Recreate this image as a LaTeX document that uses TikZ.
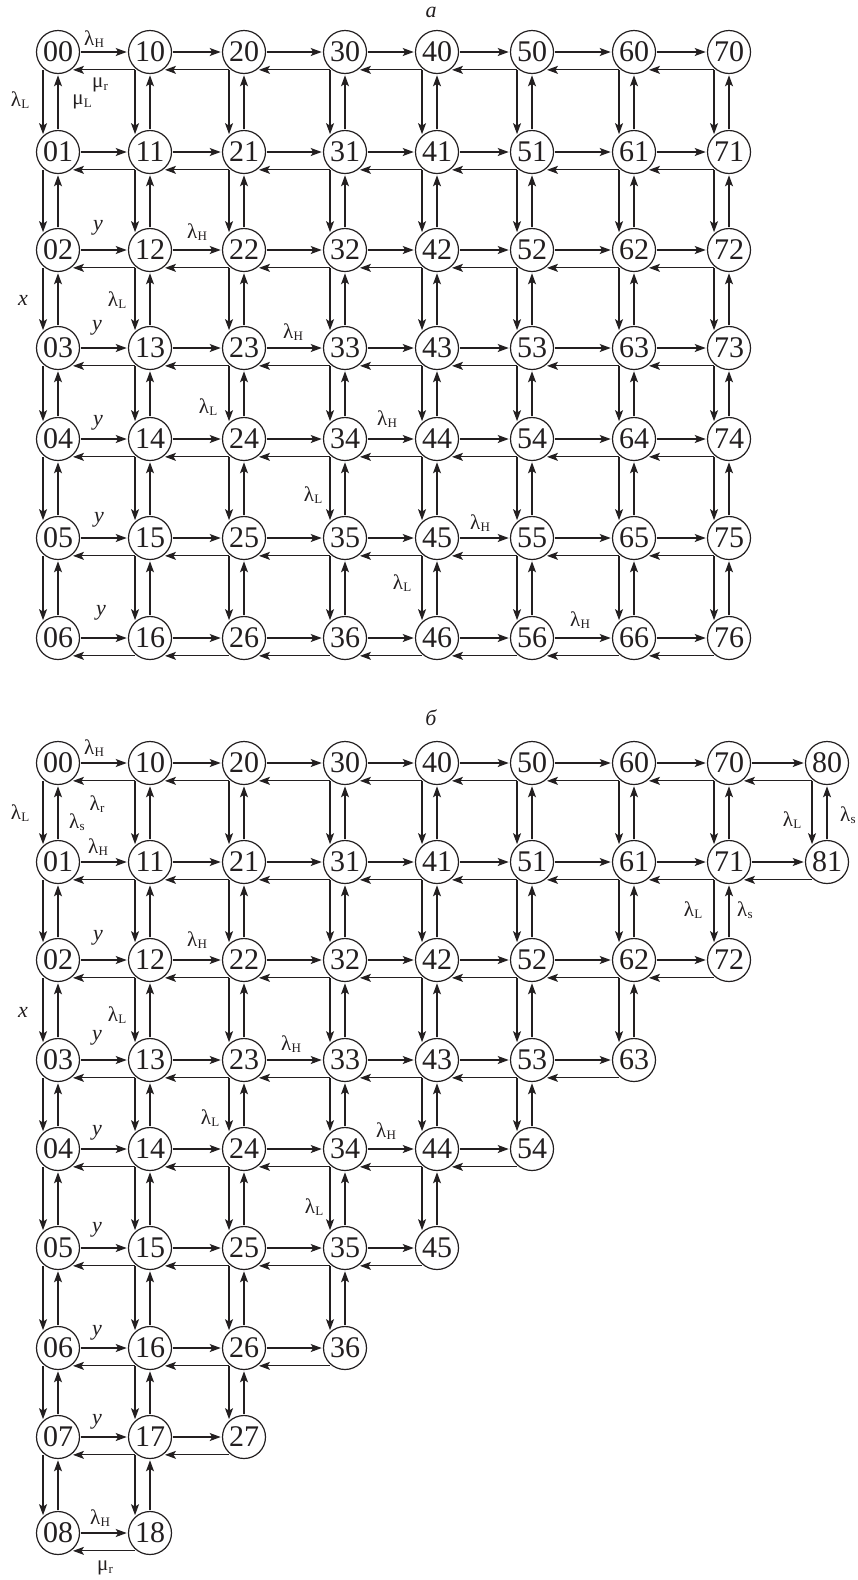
\documentclass[tikz,border=0pt]{standalone}
\usepackage{fontspec}
\setmainfont{Liberation Serif}
\usetikzlibrary{arrows.meta}
\definecolor{ink}{RGB}{35,31,32}
\newcommand\gsub[2]{#1\kern0.3pt\raisebox{-2.5pt}{\fontsize{13}{13}\selectfont #2}}
\def\colx{{58,150,244,345,437,532,634,729,827}}
\tikzset{
  st/.style={circle, draw=ink, line width=1.2pt, minimum size=43pt, inner sep=0pt, outer sep=1.8pt, text=ink, font=\fontsize{30}{30}\selectfont},
  ar/.style={draw=ink, line width=1.2pt, -{Stealth[length=11pt,width=8pt,inset=2.5pt]}},
  lbl/.style={inner sep=0pt, text=ink, font=\fontsize{21}{21}\selectfont},
  var/.style={inner sep=0pt, text=ink, font=\fontsize{22}{22}\selectfont\itshape}
}
\begin{document}
\begin{tikzpicture}[x=1pt,y=-1pt]
\useasboundingbox (0,0) rectangle (857,1580);
\fill[white] (0,0) rectangle (857,1580);
% ---------- part a nodes
\foreach \j/\yy in {0/52,1/152,2/250,3/348,4/439,5/538,6/638}{
  \foreach \i in {0,...,7}{
    \pgfmathsetmacro\xx{\colx[\i]}
    \node[st] (a\i\j) at (\xx,\yy) {\i\j};
  }
}
% part a edges
\foreach \j in {0,...,6}{
  \foreach \i in {0,...,6}{
    \pgfmathtruncatemacro\k{\i+1}
    \draw[ar] (a\i\j.east) -- (a\k\j.west);
    \draw[ar] (a\k\j.230) -- (a\i\j.310);
  }
}
\foreach \j in {0,...,5}{
  \pgfmathtruncatemacro\k{\j+1}
  \foreach \i in {0,...,7}{
    \draw[ar] (a\i\j.230) -- (a\i\k.130);
    \draw[ar] (a\i\k.north) -- (a\i\j.south);
  }
}
% ---------- part b nodes
\foreach \j/\yy in {0/763,1/862,2/960,3/1060,4/1149,5/1248,6/1348,7/1437,8/1533}{
  \pgfmathtruncatemacro\m{ifthenelse(\j==0,8,9-\j)}
  \foreach \i in {0,...,\m}{
    \pgfmathsetmacro\xx{\colx[\i]}
    \node[st] (b\i\j) at (\xx,\yy) {\i\j};
  }
}
% part b edges
\foreach \j in {0,...,8}{
  \pgfmathtruncatemacro\m{ifthenelse(\j==0,7,8-\j)}
  \foreach \i in {0,...,\m}{
    \pgfmathtruncatemacro\k{\i+1}
    \draw[ar] (b\i\j.east) -- (b\k\j.west);
    \draw[ar] (b\k\j.230) -- (b\i\j.310);
  }
}
\foreach \j in {0,...,7}{
  \pgfmathtruncatemacro\k{\j+1}
  \pgfmathtruncatemacro\m{9-\k}
  \foreach \i in {0,...,\m}{
    \draw[ar] (b\i\j.230) -- (b\i\k.130);
    \draw[ar] (b\i\k.north) -- (b\i\j.south);
  }
}
% ---------- labels part a
\node[var] (capa) at (431,12) {а};
\node[lbl] (a1) at (94,39) {\gsub{λ}{H}};
\node[lbl] (a2) at (100,85) {\gsub{μ}{r}};
\node[lbl] (a3) at (20,100) {\gsub{λ}{L}};
\node[lbl] (a4) at (82,102) {\gsub{μ}{L}};
\node[var] (a5) at (98,228) {y};
\node[lbl] (a6) at (197,232) {\gsub{λ}{H}};
\node[var] (a7) at (23,300) {x};
\node[lbl] (a8) at (117,300) {\gsub{λ}{L}};
\node[var] (a9) at (97,328) {y};
\node[lbl] (a10l) at (293,332) {\gsub{λ}{H}};
\node[lbl] (a11) at (208,407) {\gsub{λ}{L}};
\node[var] (a12) at (98,423) {y};
\node[lbl] (a13) at (387,419) {\gsub{λ}{H}};
\node[lbl] (a14) at (313,495) {\gsub{λ}{L}};
\node[var] (a15) at (99,520) {y};
\node[lbl] (a16) at (480,523) {\gsub{λ}{H}};
\node[lbl] (a17) at (402,583) {\gsub{λ}{L}};
\node[var] (a18) at (101,613) {y};
\node[lbl] (a19) at (580,620) {\gsub{λ}{H}};
% ---------- labels part b
\node[var] (capb) at (431,718) {б};
\node[lbl] (b1l) at (94,748) {\gsub{λ}{H}};
\node[lbl] (b2l) at (97,804) {\gsub{λ}{r}};
\node[lbl] (b3l) at (20,813) {\gsub{λ}{L}};
\node[lbl] (b4l) at (77,822) {\gsub{λ}{s}};
\node[lbl] (b5l) at (98,847) {\gsub{λ}{H}};
\node[var] (b6l) at (98,938) {y};
\node[lbl] (b7l) at (197,940) {\gsub{λ}{H}};
\node[var] (b8l) at (23,1012) {x};
\node[lbl] (b9l) at (117,1015) {\gsub{λ}{L}};
\node[var] (b10l) at (97,1038) {y};
\node[lbl] (b11l) at (291,1044) {\gsub{λ}{H}};
\node[lbl] (b12l) at (210,1118) {\gsub{λ}{L}};
\node[var] (b13l) at (97,1133) {y};
\node[lbl] (b14l) at (386,1131) {\gsub{λ}{H}};
\node[lbl] (b15l) at (314,1207) {\gsub{λ}{L}};
\node[var] (b16l) at (97,1230) {y};
\node[var] (b17l) at (97,1333) {y};
\node[var] (b18l) at (97,1422) {y};
\node[lbl] (b19l) at (100,1518) {\gsub{λ}{H}};
\node[lbl] (b20l) at (105,1568) {\gsub{μ}{r}};
\node[lbl] (b21l) at (792,820) {\gsub{λ}{L}};
\node[lbl] (b22l) at (848,815) {\gsub{λ}{s}};
\node[lbl] (b23l) at (693,910) {\gsub{λ}{L}};
\node[lbl] (b24l) at (745,910) {\gsub{λ}{s}};
\end{tikzpicture}
\end{document}
